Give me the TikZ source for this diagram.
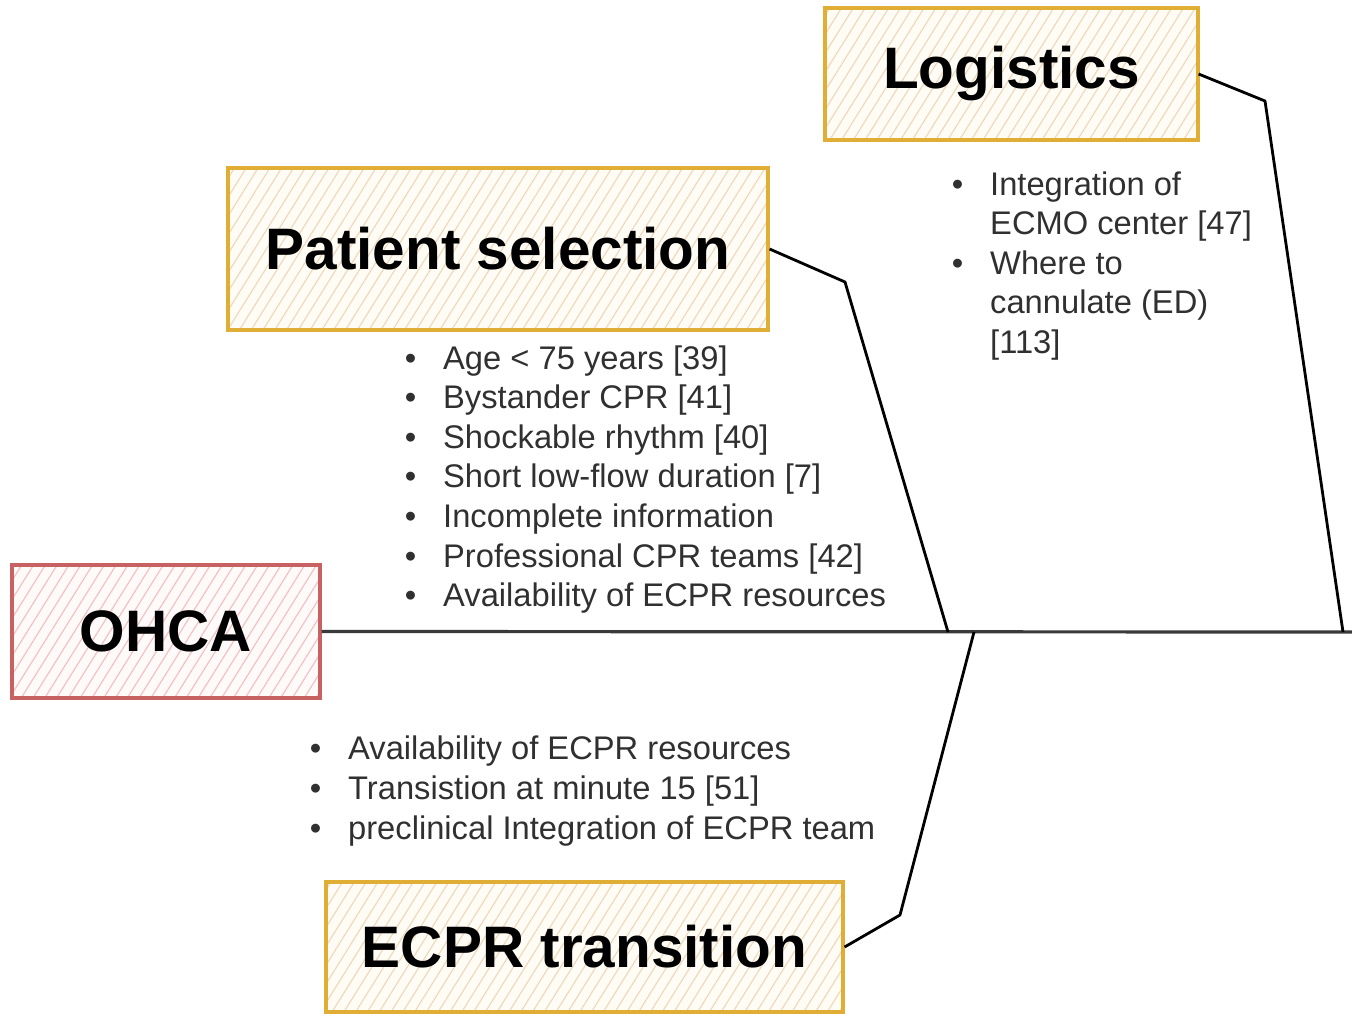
\documentclass[tikz,border=0pt]{standalone}
\usepackage{fontspec}
\setmainfont{Liberation Sans}
\usetikzlibrary{patterns.meta}

\definecolor{gold}{HTML}{E0AE34}
\definecolor{goldhatch}{HTML}{EED9BC}
\definecolor{goldbg}{HTML}{FFFCF6}
\definecolor{redline}{HTML}{C86262}
\definecolor{redhatch}{HTML}{F2C2C2}
\definecolor{redbg}{HTML}{FFFAFA}
\definecolor{bodytext}{HTML}{303030}
\definecolor{spine}{HTML}{3A3A3A}

\newcommand\bl{\llap{\textbullet\hspace{27pt}}}

\tikzset{
  catbox/.style={draw=gold, line width=3.2pt, preaction={fill=goldbg},
    pattern={Lines[angle=58,distance=10pt,line width=1.2pt]}, pattern color=goldhatch,
    font=\fontsize{58.5}{70}\selectfont\bfseries, text=black, inner sep=0pt},
  startbox/.style={catbox, draw=redline, preaction={fill=redbg}, pattern color=redhatch},
  item/.style={anchor=base west, inner sep=0pt, text=bodytext,
    font=\fontsize{32.7}{39.5}\selectfont},
  bone/.style={line width=2.8pt, black, line join=round},
  spineline/.style={line width=3.2pt, spine}
}

\begin{document}
\begin{tikzpicture}[x=1pt, y=-1pt]
  \useasboundingbox (0,0) rectangle (1352,1015);

  % category boxes
  \node[catbox, minimum width=373pt, minimum height=132pt] (log) at (1011.5,74) {Logistics};
  \node[catbox, minimum width=540pt, minimum height=162pt] (ps) at (498,249) {Patient selection};
  \node[startbox, minimum width=308pt, minimum height=133pt] (ohca) at (166,631.5) {OHCA};
  \node[catbox, minimum width=517pt, minimum height=130pt] (ecpr) at (584.5,947) {ECPR transition};

  % spine and bones
  \coordinate (head) at (1352,632);
  \coordinate (psbend) at (845,282);
  \coordinate (psjoin) at (948,632);
  \coordinate (logbend) at (1265,101);
  \coordinate (logjoin) at (1343,632);
  \coordinate (ecbend) at (900,915);
  \coordinate (ecjoin) at (974,632);

  \draw[spineline] (ohca.east) -- (head);
  \draw[bone] (ps.east) -- (psbend) -- (psjoin);
  \draw[bone] (log.east) -- (logbend) -- (logjoin);
  \draw[bone] (ecpr.east) -- (ecbend) -- (ecjoin);

  % logistics factors
  \node[item] (l1) at (990,195) {\bl Integration of};
  \node[item] (l2) at (990,234.5) {ECMO center [47]};
  \node[item] (l3) at (990,274) {\bl Where to};
  \node[item] (l4) at (990,313.5) {cannulate (ED)};
  \node[item] (l5) at (990,353) {[113]};

  % patient selection factors
  \node[item] (p1) at (443,369) {\bl Age < 75 years [39]};
  \node[item] (p2) at (443,408.6) {\bl Bystander CPR [41]};
  \node[item] (p3) at (443,448.2) {\bl Shockable rhythm [40]};
  \node[item] (p4) at (443,487.8) {\bl Short low-flow duration [7]};
  \node[item] (p5) at (443,527.4) {\bl Incomplete information};
  \node[item] (p6) at (443,567) {\bl Professional CPR teams [42]};
  \node[item] (p7) at (443,606.6) {\bl Availability of ECPR resources};

  % ECPR transition factors
  \node[item] (e1) at (348,759) {\bl Availability of ECPR resources};
  \node[item] (e2) at (348,799) {\bl Transistion at minute 15 [51]};
  \node[item] (e3) at (348,839) {\bl preclinical Integration of ECPR team};
\end{tikzpicture}
\end{document}
